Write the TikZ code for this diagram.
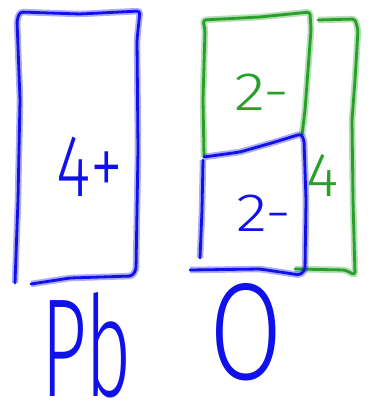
\documentclass[tikz,border=0pt]{standalone}
\usepackage{fontspec}
\newfontfamily\handfont{Fira Sans Light}
\definecolor{penblue}{RGB}{16,16,235}
\definecolor{pengreen}{RGB}{40,160,40}
\tikzset{
  ink/.style={line width=2.8pt, line cap=round, line join=round, rounded corners=3pt,
    draw=#1, preaction={draw=#1, line width=6.5pt, opacity=0.35}},
  blueink/.style={ink=penblue},
  greenink/.style={ink=pengreen},
  charge/.style={font=\handfont\fontsize{54}{54}\selectfont, inner sep=0pt},
}
\begin{document}
\begin{tikzpicture}[x=1pt, y=-1pt]
  \useasboundingbox (0,0) rectangle (374,403);
  % lead cell
  \draw[blueink] (15,283) -- (18,200) -- (20,100) -- (17,20) -- (20,12) -- (80,14)
    -- (140,11) -- (137,40) -- (138,150) -- (136,270) -- (132,276) -- (70,278) -- (31,284);
  % oxide cells
  \draw[greenink] (204,157) -- (203,100) -- (205,30) -- (203,20) -- (260,17) -- (310,12)
    -- (311,30) -- (305,110) -- (302,135);
  \draw[greenink] (295,269) -- (345,270) -- (355,275) -- (353,200) -- (352,120)
    -- (355,80) -- (358,30) -- (355,19) -- (318,20);
  \draw[blueink] (204,157) -- (240,152) -- (275,142) -- (301,134) -- (304,140)
    -- (306,200) -- (305,270) -- (300,275) -- (260,269) -- (190,270);
  \draw[blueink] (203,160) -- (202,210) -- (200,258);
  % labels
  \node[charge, text=penblue] (pbcharge) at (90,167)
    {\fontsize{88}{88}\selectfont\scalebox{0.75}[1]{4+}};
  \node[charge, text=pengreen] (upper) at (262,92) {\scalebox{1.2}[1]{2-}};
  \node[charge, text=penblue] (lower) at (264,213) {\scalebox{1.2}[1]{2-}};
  \node[charge, text=pengreen] (oxcharge) at (323,176) {\fontsize{62}{62}\selectfont 4};
  \node[charge, text=penblue, anchor=base] (pb) at (87,396)
    {\fontsize{140}{140}\selectfont\scalebox{0.57}[1]{Pb}};
  \node[charge, text=penblue, anchor=base] (ox) at (246,379)
    {\fontsize{138}{138}\selectfont\scalebox{0.77}[1]{O}};
\end{tikzpicture}
\end{document}
